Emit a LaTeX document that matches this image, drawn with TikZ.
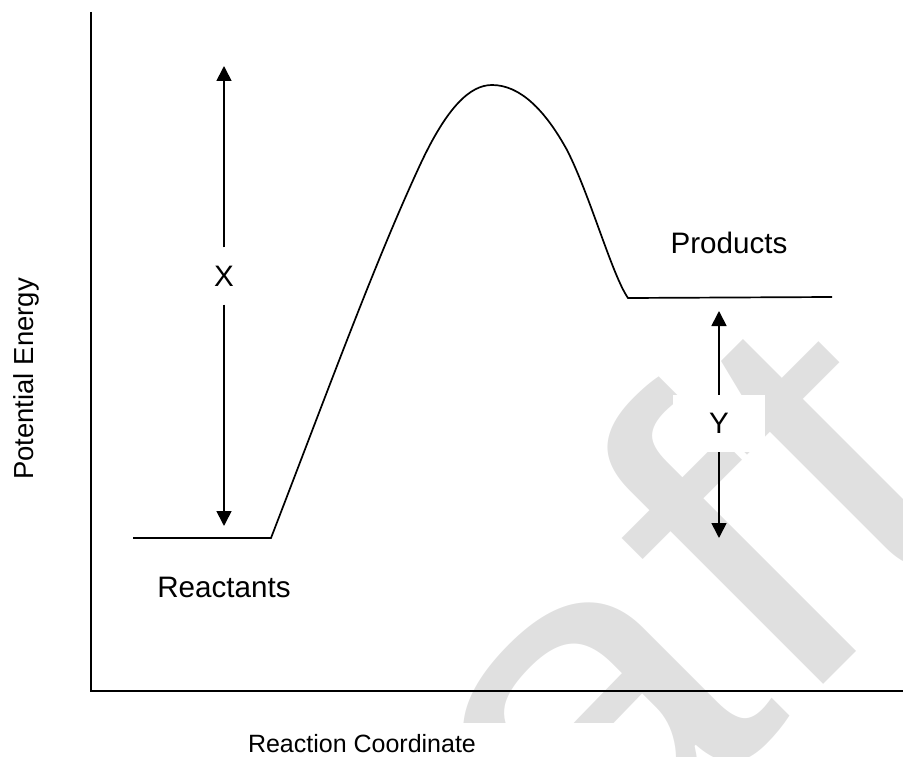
\documentclass[tikz,border=0pt]{standalone}
\usepackage{fontspec}
\setmainfont{Liberation Sans}
\usetikzlibrary{arrows.meta}
\definecolor{wm}{RGB}{224,224,224}
\begin{document}
\begin{tikzpicture}[x=1pt,y=-1pt,
  line/.style={line width=1.7pt,line join=miter},
  arr/.style={line width=1.7pt,-{Triangle[length=15pt,width=15pt]}},
  lbl/.style={font=\fontsize{29.6}{34}\selectfont,inner sep=0pt},
  gapbox/.style={lbl,fill=white,minimum width=92pt,minimum height=57pt}]
\useasboundingbox (0,0) rectangle (903,757);
% watermark
\begin{scope}
  \clip (0,0) rectangle (903,757);
  \node[rotate=45,xscale=1.14,anchor=base east,inner sep=0pt,text=wm,
        font=\fontsize{465}{500}\selectfont] (wmark) at (999,509) {Draft};
\end{scope}
\fill[white] (44,723) rectangle (650,757);
% axes
\coordinate (otop) at (91,12);
\coordinate (o) at (91,691);
\coordinate (xend) at (903,691);
\draw[line] (otop) -- (o) -- (xend);
% energy profile
\coordinate (r0) at (133,538);
\coordinate (r1) at (271,538);
\coordinate (c1) at (420,165);
\coordinate (peak) at (492,85);
\coordinate (c3) at (567,150);
\coordinate (p0) at (628,298);
\coordinate (p1) at (832,297);
\draw[line] (r0) -- (r1)
  .. controls (330,385) and (375,262) .. (c1)
  .. controls (447,107) and (470,85) .. (peak)
  .. controls (520,85) and (545,110) .. (c3)
  .. controls (590,195) and (612,275) .. (p0)
  -- (p1);
% X arrow
\node[gapbox] (X) at (224,276) {X};
\coordinate (xtop) at (224,66);
\coordinate (xbot) at (224,526);
\draw[arr] (X.north) -- (xtop);
\draw[arr] (X.south) -- (xbot);
% Y arrow
\node[gapbox] (Y) at (719,423.5) {Y};
\coordinate (ytop) at (719,311);
\coordinate (ybot) at (719,538);
\draw[arr] (Y.north) -- (ytop);
\draw[arr] (Y.south) -- (ybot);
% labels
\node[lbl,anchor=base] (prod) at (729,254) {Products};
\node[lbl,anchor=base] (reac) at (224,597) {Reactants};
\node[inner sep=0pt,anchor=base,font=\fontsize{25}{30}\selectfont] (rc) at (362,752) {Reaction Coordinate};
\node[inner sep=0pt,anchor=base,rotate=90,font=\fontsize{27.5}{32}\selectfont] (pe) at (33,379) {Potential Energy};
\end{tikzpicture}
\end{document}
